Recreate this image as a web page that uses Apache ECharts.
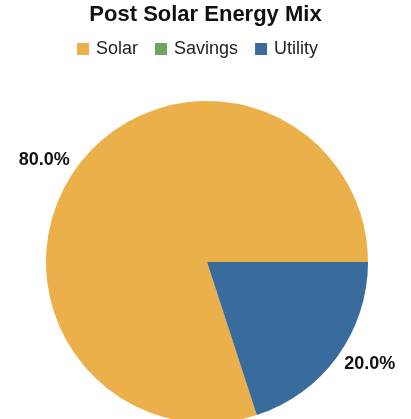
<!DOCTYPE html>
<html>
<head>
<meta charset="utf-8">
<script src="https://cdn.jsdelivr.net/npm/echarts@6/dist/echarts.min.js"></script>
<style>
  html, body { margin: 0; padding: 0; background: #fff; }
  #chart { width: 411px; height: 419px; }
</style>
</head>
<body>
<div id="chart"></div>
<script>
// Energy sources after installing solar
const categories = ['Solar', 'Savings', 'Utility'];
const shares = [80, 0, 20];
const colors = ['#ECB04A', '#6AA85A', '#396C9D'];

const sliceData = categories.map((name, i) => ({ name, value: shares[i] }));
const fontFamily = '"Liberation Sans", Arial, sans-serif';

const chart = echarts.init(document.getElementById('chart'), null, { renderer: 'canvas' });
chart.setOption({
  animation: false,
  color: colors,
  title: {
    text: 'Post Solar Energy Mix',
    left: 'center',
    top: 4,
    padding: 0,
    textStyle: { fontFamily, fontSize: 22, fontWeight: 'bold', color: '#111' }
  },
  legend: {
    data: categories,
    top: 40,
    left: 77,
    padding: 0,
    icon: 'rect',
    itemWidth: 12,
    itemHeight: 12,
    itemGap: 17,
    textStyle: { fontFamily, fontSize: 18, color: '#222', padding: [0, 0, 0, 2] }
  },
  series: [
    {
      // the pie itself
      type: 'pie',
      center: [207, 262],
      radius: 161,
      startAngle: 288,
      clockwise: true,
      silent: true,
      label: { show: false },
      labelLine: { show: false },
      data: sliceData
    },
    {
      // transparent ring carrying the percentage labels outside the pie
      type: 'pie',
      center: [207, 262],
      radius: [180, 198],
      startAngle: 292,
      clockwise: true,
      silent: true,
      itemStyle: { color: 'rgba(0,0,0,0)' },
      label: {
        show: true,
        position: 'inside',
        fontFamily,
        fontSize: 18,
        fontWeight: 'bold',
        color: '#111',
        formatter: p => (p.value ? p.percent.toFixed(1) + '%' : '')
      },
      labelLine: { show: false },
      data: sliceData
    }
  ]
});
</script>
</body>
</html>
